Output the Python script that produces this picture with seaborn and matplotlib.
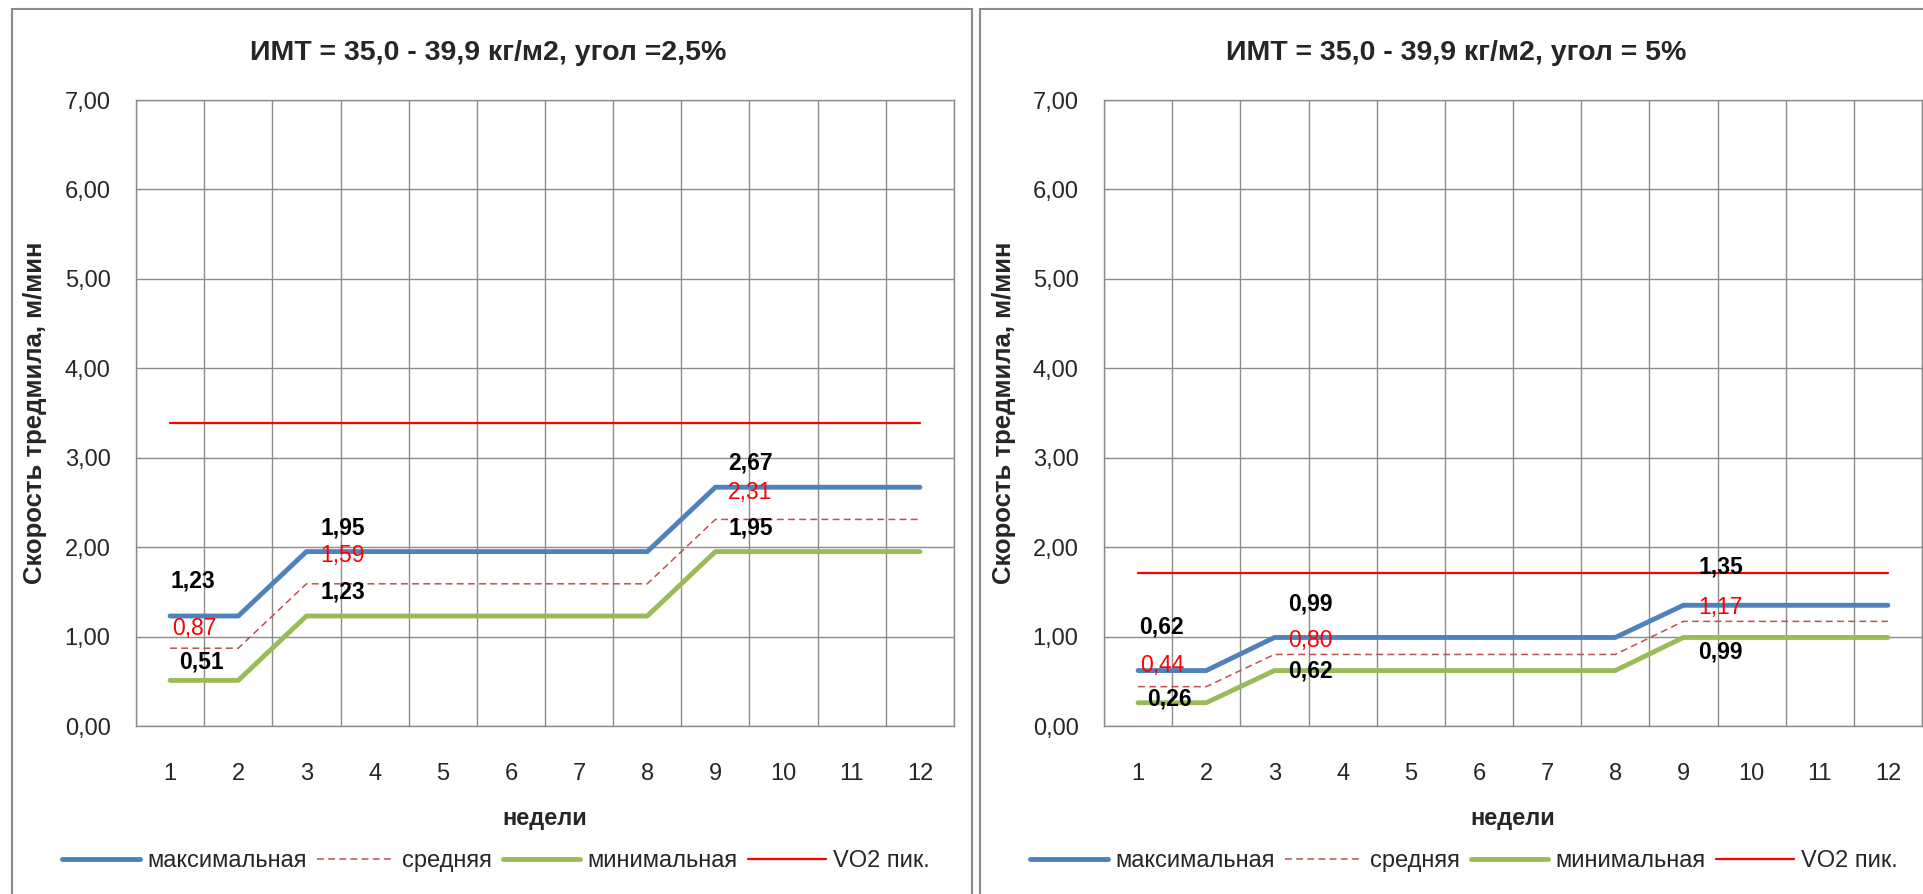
import matplotlib
matplotlib.use("Agg")
import matplotlib.pyplot as plt
from matplotlib.patches import Rectangle
from matplotlib.ticker import FixedLocator, FuncFormatter
import seaborn as sns
import pandas as pd

# ---------------- data ----------------
weeks = list(range(1, 13))

titles = ["ИМТ = 35,0 - 39,9 кг/м2, угол =2,5%", "ИМТ = 35,0 - 39,9 кг/м2, угол = 5%"]
series_names = ["максимальная", "средняя", "минимальная", "VO2 пик."]

left_max = [1.23, 1.23, 1.95, 1.95, 1.95, 1.95, 1.95, 1.95, 2.67, 2.67, 2.67, 2.67]
left_mean = [0.87, 0.87, 1.59, 1.59, 1.59, 1.59, 1.59, 1.59, 2.31, 2.31, 2.31, 2.31]
left_min = [0.51, 0.51, 1.23, 1.23, 1.23, 1.23, 1.23, 1.23, 1.95, 1.95, 1.95, 1.95]
left_vo2 = [3.39] * 12

right_max = [0.62, 0.62, 0.99, 0.99, 0.99, 0.99, 0.99, 0.99, 1.35, 1.35, 1.35, 1.35]
right_mean = [0.44, 0.44, 0.80, 0.80, 0.80, 0.80, 0.80, 0.80, 1.17, 1.17, 1.17, 1.17]
right_min = [0.26, 0.26, 0.62, 0.62, 0.62, 0.62, 0.62, 0.62, 0.99, 0.99, 0.99, 0.99]
right_vo2 = [1.71] * 12

labelled_weeks = [1, 3, 9]
y_ticks = [0, 1, 2, 3, 4, 5, 6, 7]
x_label = "недели"
y_label = "Скорость тредмила, м/мин"

# ---------------- style ----------------
sns.set_style("white")
plt.rcParams["font.family"] = ["Liberation Sans", "DejaVu Sans"]

W, H = 1923, 894
fig = plt.figure(figsize=(W / 100, H / 100), dpi=100)

GRID = "#8c8c8c"
C_MAX, C_MEAN, C_MIN, C_VO2 = "#4F81BD", "#C0504D", "#9BBB59", "#FF0000"

# label offsets in pixels (dx, dy) per series per labelled week
left_offsets = {
    "max": [(23, 35), (36, 24), (35, 24)],
    "mean": [(24, 20), (36, 28), (35, 27)],
    "min": [(31, 18), (36, 24), (35, 24)],
}
right_offsets = {
    "max": [(23, 44), (36, 33), (37, 38)],
    "mean": [(24, 21), (36, 14), (37, 14)],
    "min": [(31, 4), (36, 0), (37, -15)],
}

panels = [
    dict(data=(left_max, left_mean, left_min, left_vo2), title=titles[0],
         box=(12, 972), ax_x=136, offsets=left_offsets, ylab_x=35),
    dict(data=(right_max, right_mean, right_min, right_vo2), title=titles[1],
         box=(980, 1940), ax_x=1104, offsets=right_offsets, ylab_x=1004),
]

AX_W = 818
AX_TOP, AX_BOT = 100, 726


def fx(px):
    return px / W


def fy(py):
    return 1 - py / H


def comma(v, pos=None):
    return f"{v:.2f}".replace(".", ",")


for p in panels:
    # panel border
    x0, x1 = p["box"]
    fig.add_artist(Rectangle((fx(x0), fy(H + 20)), fx(x1) - fx(x0), fy(9) - fy(H + 20),
                             transform=fig.transFigure, fill=False, edgecolor="#8a8a8a",
                             linewidth=1.5, zorder=0))

    ax = fig.add_axes([fx(p["ax_x"]), fy(AX_BOT), AX_W / W, (AX_BOT - AX_TOP) / H])
    mx, mn_, mi, vo = p["data"]
    df = pd.DataFrame({"week": weeks, "max": mx, "mean": mn_, "min": mi, "vo2": vo})

    sns.lineplot(data=df, x="week", y="max", ax=ax, color=C_MAX, linewidth=3.5,
                 label=series_names[0], solid_capstyle="round", zorder=4)
    sns.lineplot(data=df, x="week", y="mean", ax=ax, color=C_MEAN, linewidth=1.1,
                 linestyle=(0, (4.5, 2.8)), label=series_names[1], zorder=3)
    sns.lineplot(data=df, x="week", y="min", ax=ax, color=C_MIN, linewidth=3.5,
                 label=series_names[2], solid_capstyle="round", zorder=4)
    sns.lineplot(data=df, x="week", y="vo2", ax=ax, color=C_VO2, linewidth=1.6,
                 label=series_names[3], zorder=3)

    ax.set_xlim(0.5, 12.5)
    ax.set_ylim(0, 7)
    ax.set_xlabel("")
    ax.set_ylabel("")

    ax.xaxis.set_major_locator(FixedLocator(weeks))
    ax.xaxis.set_minor_locator(FixedLocator([w - 0.5 for w in weeks] + [12.5]))
    ax.yaxis.set_major_locator(FixedLocator(y_ticks))
    ax.yaxis.set_major_formatter(FuncFormatter(comma))

    ax.tick_params(axis="x", which="major", length=0, pad=27, labelsize=17)
    ax.tick_params(axis="x", which="minor", length=5.8, width=1.0, color=GRID, direction="out")
    ax.tick_params(axis="y", which="major", length=5.8, width=1.0, color=GRID,
                   direction="out", pad=12.5, labelsize=17)

    ax.grid(False)
    ax.grid(True, axis="x", which="minor", color=GRID, linewidth=1.0)
    ax.grid(True, axis="y", which="major", color=GRID, linewidth=1.0)
    ax.set_axisbelow(True)
    for s in ax.spines.values():
        s.set_visible(True)
        s.set_color(GRID)
        s.set_linewidth(1.0)

    # data labels
    for key, vals, col, wt in (("max", mx, "black", "bold"),
                               ("mean", mn_, "#FF0000", "normal"),
                               ("min", mi, "black", "bold")):
        for (dx, dy), w in zip(p["offsets"][key], labelled_weeks):
            v = vals[w - 1]
            ax.annotate(comma(v), xy=(w, v), xytext=(dx, dy), textcoords="offset pixels",
                        ha="center", va="center", fontsize=16.5, color=col,
                        fontweight=wt, zorder=6)

    handles, labels = ax.get_legend_handles_labels()
    ax.get_legend().remove()

    cx = (x0 + x1) / 2
    fig.text(fx(cx - 4), fy(53), p["title"], ha="center", va="center",
             fontsize=20.5, fontweight="bold")
    ax.text(0.5, (AX_BOT - 819) / (AX_BOT - AX_TOP), x_label, transform=ax.transAxes,
            ha="center", va="center", fontsize=17, fontweight="bold")
    fig.text(fx(p["ylab_x"]), fy((AX_TOP + AX_BOT) / 2), y_label, rotation=90,
             ha="center", va="center", fontsize=18.5, fontweight="bold")

    fig.legend(handles, labels, loc="center", bbox_to_anchor=(fx(cx + 4), fy(861)),
               ncol=4, frameon=False, fontsize=17, handlelength=3.3,
               handletextpad=0.3, columnspacing=0.45, borderaxespad=0)

fig.savefig("out.png", dpi=100)
